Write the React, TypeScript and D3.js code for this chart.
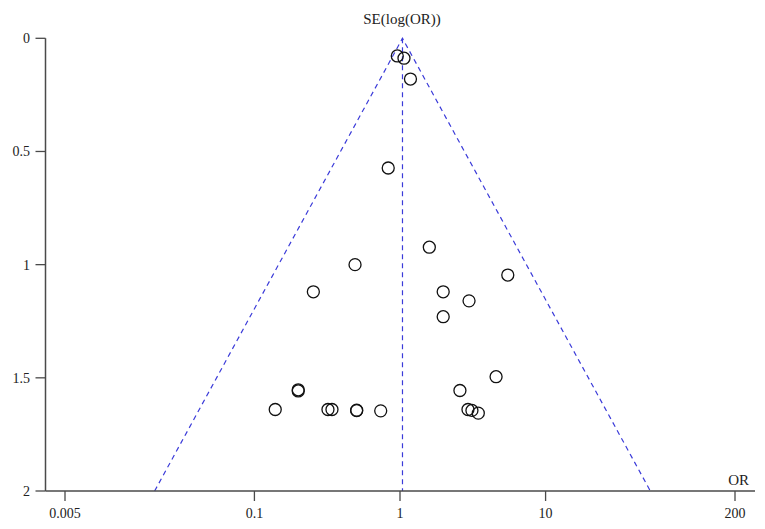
import React from 'react';
import * as d3 from 'd3';

const width = 765;
const height = 529;

// study odds ratios and standard errors of log(OR)
const oddsRatios = [
  0.958, 1.065, 1.18, 0.83,
  1.59, 0.491, 5.5, 0.254, 1.98, 2.98, 1.98,
  4.57, 0.2, 0.2, 2.58,
  0.139, 0.32, 0.341, 0.504, 0.504, 0.737, 2.93, 3.12, 3.45
];
const standardErrors = [
  0.078, 0.088, 0.18, 0.573,
  0.923, 1.0, 1.046, 1.12, 1.12, 1.16, 1.23,
  1.495, 1.553, 1.558, 1.556,
  1.64, 1.64, 1.64, 1.643, 1.645, 1.646, 1.64, 1.644, 1.656
];
const pooledOR = 1.04;
const xTicks = [0.005, 0.1, 1, 10, 200];
const xTickLabels = ['0.005', '0.1', '1', '10', '200'];
const yTicks = [0, 0.5, 1, 1.5, 2];
const yTickLabels = ['0', '0.5', '1', '1.5', '2'];

const margin = { top: 38.3, right: 10, bottom: 38, left: 45.5 };
const font = '"Liberation Serif", "Times New Roman", serif';

export default function App() {
  const x = d3.scaleLog().domain([0.005, 200]).range([65, 735]);
  const y = d3.scaleLinear().domain([0, 2]).range([margin.top, 491]);

  const studies = oddsRatios.map((or, i) => ({ or, se: standardErrors[i] }));

  // 95% pseudo confidence limits
  const seMax = 2;
  const lnCenter = Math.log(pooledOR);
  const leftLimit = Math.exp(lnCenter - 1.96 * seMax);
  const rightLimit = Math.exp(lnCenter + 1.96 * seMax);
  const line = d3.line<[number, number]>().x(d => x(d[0])).y(d => y(d[1]));
  const funnel = line([[leftLimit, seMax], [pooledOR, 0], [rightLimit, seMax]]);
  const center = line([[pooledOR, 0], [pooledOR, seMax]]);

  const axisColor = '#4a4a4a';
  const dashColor = '#3b3bd9';
  const x0 = margin.left;
  const yAxisBottom = y(2);

  return (
    <svg width={width} height={height} style={{ position: 'absolute', left: 0, top: 0, background: '#fff' }}>
      <text x={402} y={24} textAnchor="middle" fontFamily={font} fontSize={15} fill="#222">
        SE(log(OR))
      </text>

      {/* funnel */}
      <path d={funnel || ''} fill="none" stroke={dashColor} strokeWidth={1.2} strokeDasharray="5,4" />
      <path d={center || ''} fill="none" stroke={dashColor} strokeWidth={1.2} strokeDasharray="5,4" />

      {/* y axis */}
      <line x1={x0} x2={x0} y1={y(0)} y2={yAxisBottom} stroke={axisColor} strokeWidth={1.5} />
      {yTicks.map((t, i) => (
        <g key={t}>
          <line x1={x0 - 10} x2={x0} y1={y(t)} y2={y(t)} stroke={axisColor} strokeWidth={1.3} />
          <text x={30} y={y(t)} dy="0.35em" textAnchor="end" fontFamily={font} fontSize={14} fill="#222">
            {yTickLabels[i]}
          </text>
        </g>
      ))}

      {/* x axis */}
      <line x1={x0} x2={755} y1={yAxisBottom} y2={yAxisBottom} stroke={axisColor} strokeWidth={1.5} />
      {xTicks.map((t, i) => (
        <g key={t}>
          <line x1={x(t)} x2={x(t)} y1={yAxisBottom} y2={yAxisBottom + 10} stroke={axisColor} strokeWidth={1.3} />
          <text x={x(t)} y={518} textAnchor="middle" fontFamily={font} fontSize={14} fill="#222">
            {xTickLabels[i]}
          </text>
        </g>
      ))}
      <text x={749} y={485} textAnchor="end" fontFamily={font} fontSize={15} fill="#222">
        OR
      </text>

      {/* studies */}
      {studies.map((d, i) => (
        <circle key={i} cx={x(d.or)} cy={y(d.se)} r={6} fill="none" stroke="#111" strokeWidth={1.3} />
      ))}
    </svg>
  );
}
